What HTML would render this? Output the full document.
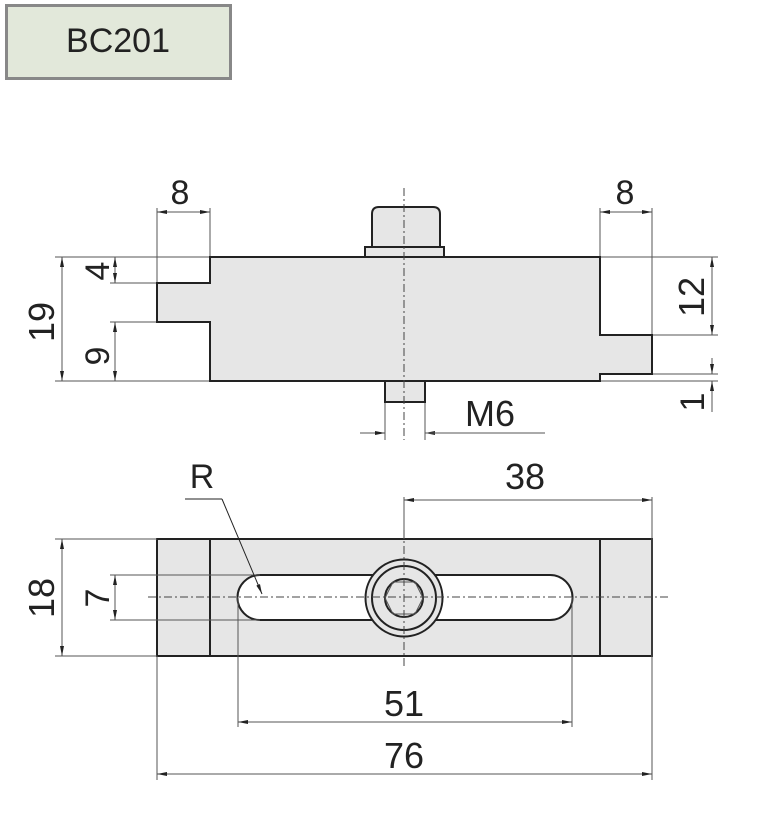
<!DOCTYPE html>
<html><head><meta charset="utf-8"><style>
html,body{margin:0;padding:0;background:#fff;}
svg{display:block;}
text{font-family:"Liberation Sans",sans-serif;fill:#222;}
</style></head><body>
<svg width="768" height="816" viewBox="0 0 768 816" xmlns="http://www.w3.org/2000/svg">
<defs>
<marker id="a" markerWidth="10" markerHeight="6" refX="10" refY="3" orient="auto-start-reverse" markerUnits="userSpaceOnUse"><path d="M0,1 L10,3 L0,5 z" fill="#222"/></marker>
</defs>
<rect x="6.5" y="5.5" width="224" height="73" fill="#e2e8da" stroke="#888" stroke-width="3"/>
<text x="118" y="52" font-size="34" text-anchor="middle">BC201</text>

<g stroke="#555" stroke-width="1" fill="none">
<line x1="157" y1="208" x2="157" y2="283"/><line x1="210" y1="208" x2="210" y2="257"/>
<line x1="600" y1="208" x2="600" y2="257"/><line x1="652" y1="208" x2="652" y2="335"/>
<line x1="55" y1="257" x2="210" y2="257"/><line x1="110" y1="283" x2="157" y2="283"/>
<line x1="110" y1="322" x2="157" y2="322"/><line x1="55" y1="381" x2="210" y2="381"/>
<line x1="600" y1="257" x2="718" y2="257"/><line x1="652" y1="335" x2="718" y2="335"/>
<line x1="652" y1="374" x2="718" y2="374"/><line x1="600" y1="381" x2="718" y2="381"/>
<line x1="385" y1="402" x2="385" y2="440"/><line x1="425" y1="402" x2="425" y2="440"/>
<line x1="157" y1="212" x2="210" y2="212" marker-start="url(#a)" marker-end="url(#a)"/>
<line x1="600" y1="212" x2="652" y2="212" marker-start="url(#a)" marker-end="url(#a)"/>
<line x1="62" y1="257" x2="62" y2="381" marker-start="url(#a)" marker-end="url(#a)"/>
<line x1="115" y1="257" x2="115" y2="283" marker-start="url(#a)" marker-end="url(#a)"/>
<line x1="115" y1="322" x2="115" y2="381" marker-start="url(#a)" marker-end="url(#a)"/>
<line x1="712" y1="257" x2="712" y2="335" marker-start="url(#a)" marker-end="url(#a)"/>
<line x1="712" y1="358" x2="712" y2="374" marker-end="url(#a)"/>
<line x1="712" y1="412" x2="712" y2="381" marker-end="url(#a)"/>
<line x1="360" y1="433" x2="385" y2="433" marker-end="url(#a)"/>
<line x1="450" y1="433" x2="425" y2="433" marker-end="url(#a)"/>
<line x1="425" y1="433" x2="545" y2="433"/>
</g>

<g stroke="#222" stroke-width="2" fill="#e6e6e6">
<path d="M210,257 L600,257 L600,335 L652,335 L652,374 L600,374 L600,381 L210,381 L210,322 L157,322 L157,283 L210,283 Z"/>
<path d="M372,247 L372,214 Q372,207 379,207 L433,207 Q440,207 440,214 L440,247 Z"/>
<rect x="365" y="247" width="79" height="10"/>
<rect x="385" y="381" width="40" height="21"/>
</g>
<rect x="601" y="258" width="50" height="76" fill="#fff"/>
<line x1="404" y1="188" x2="404" y2="440" stroke="#444" stroke-width="1" stroke-dasharray="8,3,2,3"/>

<text x="180" y="204" font-size="34" text-anchor="middle">8</text>
<text x="625" y="204" font-size="34" text-anchor="middle">8</text>
<text x="490" y="426" font-size="36" text-anchor="middle">M6</text>
<text transform="translate(54,322) rotate(-90)" font-size="36" text-anchor="middle">19</text>
<text transform="translate(109,271) rotate(-90)" font-size="34" text-anchor="middle">4</text>
<text transform="translate(109,356) rotate(-90)" font-size="34" text-anchor="middle">9</text>
<text transform="translate(704,297) rotate(-90)" font-size="36" text-anchor="middle">12</text>
<text transform="translate(704,402) rotate(-90)" font-size="34" text-anchor="middle">1</text>

<!-- bottom view body -->
<g stroke="#222" stroke-width="2">
<rect x="157" y="539" width="495" height="117" fill="#e6e6e6"/>
<line x1="210" y1="539" x2="210" y2="656"/><line x1="600" y1="539" x2="600" y2="656"/>
<path d="M260,575 L550,575 A22.5,22.5 0 0 1 550,620 L260,620 A22.5,22.5 0 0 1 260,575 Z" fill="#fff"/>
</g>
<g stroke="#555" stroke-width="1" fill="none">
<line x1="55" y1="539" x2="157" y2="539"/><line x1="55" y1="656" x2="157" y2="656"/>
<line x1="110" y1="575" x2="260" y2="575"/><line x1="110" y1="620" x2="260" y2="620"/>
<line x1="62" y1="539" x2="62" y2="656" marker-start="url(#a)" marker-end="url(#a)"/>
<line x1="115" y1="575" x2="115" y2="620" marker-start="url(#a)" marker-end="url(#a)"/>
<line x1="404" y1="497" x2="404" y2="539"/><line x1="652" y1="497" x2="652" y2="780"/>
<line x1="157" y1="656" x2="157" y2="780"/>
<line x1="238" y1="597" x2="238" y2="727"/><line x1="572" y1="597" x2="572" y2="727"/>
<line x1="404" y1="500" x2="652" y2="500" marker-start="url(#a)" marker-end="url(#a)"/>
<line x1="238" y1="722" x2="572" y2="722" marker-start="url(#a)" marker-end="url(#a)"/>
<line x1="157" y1="774" x2="652" y2="774" marker-start="url(#a)" marker-end="url(#a)"/>
<line x1="185" y1="499" x2="222" y2="499" stroke="#222"/>
<line x1="222" y1="499" x2="262" y2="594" stroke="#222" marker-end="url(#a)"/>
</g>
<g stroke="#222" stroke-width="2" fill="#e6e6e6">
<circle cx="404" cy="598" r="38.5"/>
<circle cx="404" cy="598" r="32"/>
<circle cx="404" cy="598" r="19"/>
</g>
<polygon points="393,582 415,582 423,598 415,614 393,614 385,598" fill="none" stroke="#555" stroke-width="1"/>
<line x1="148" y1="597" x2="668" y2="597" stroke="#444" stroke-width="1" stroke-dasharray="8,3,2,3"/>
<line x1="404" y1="530" x2="404" y2="668" stroke="#444" stroke-width="1" stroke-dasharray="8,3,2,3"/>

<text x="202" y="488" font-size="34" text-anchor="middle">R</text>
<text x="525" y="489" font-size="36" text-anchor="middle">38</text>
<text x="404" y="716" font-size="36" text-anchor="middle">51</text>
<text x="404" y="768" font-size="36" text-anchor="middle">76</text>
<text transform="translate(54,598) rotate(-90)" font-size="36" text-anchor="middle">18</text>
<text transform="translate(109,598) rotate(-90)" font-size="34" text-anchor="middle">7</text>
</svg>
</body></html>
